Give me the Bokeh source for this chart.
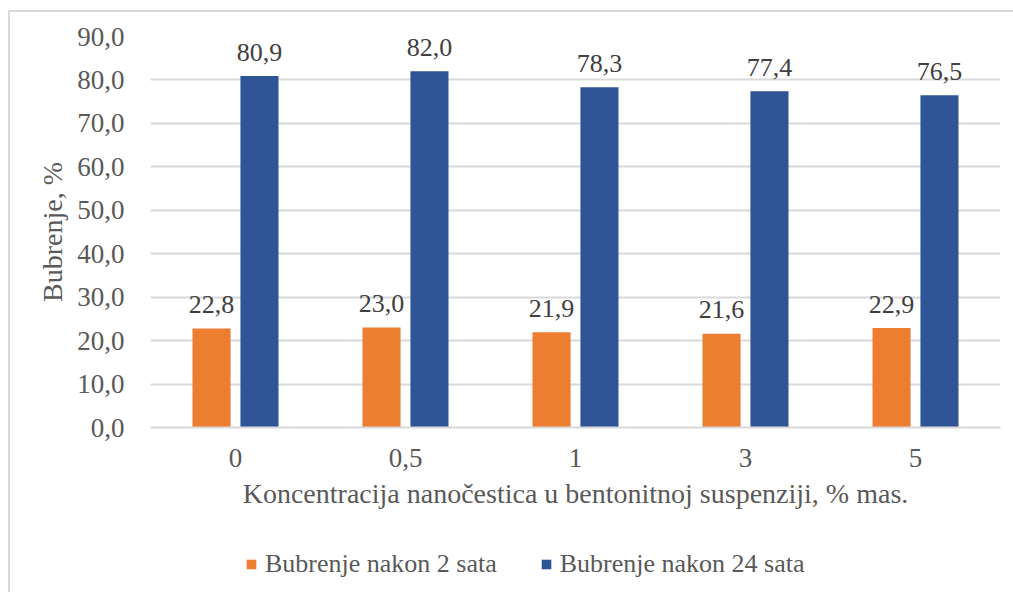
from bokeh.plotting import figure
from bokeh.layouts import column
from bokeh.models import ColumnDataSource, FactorRange, Range1d, Legend, LegendItem, SingleIntervalTicker, CustomJSTickFormatter
from bokeh.transform import dodge
from bokeh.core.properties import value
from bokeh.embed import file_html
from bokeh.resources import INLINE

categories = ["0", "0,5", "1", "3", "5"]
after_2h = [22.8, 23.0, 21.9, 21.6, 22.9]
after_24h = [80.9, 82.0, 78.3, 77.4, 76.5]
series_names = ["Bubrenje nakon 2 sata", "Bubrenje nakon 24 sata"]
y_title = "Bubrenje, %"
x_title = "Koncentracija nanočestica u bentonitnoj suspenziji, % mas."

FONT = "'Liberation Serif', 'Times New Roman', serif"
ORANGE = "#ED7D31"
BLUE = "#2F5597"

src = ColumnDataSource(dict(
    cat=categories,
    a=after_2h,
    b=after_24h,
    a_lab=[f"{v:.1f}".replace(".", ",") for v in after_2h],
    b_lab=[f"{v:.1f}".replace(".", ",") for v in after_24h],
))

p = figure(width=1003, height=530, x_range=FactorRange(*categories, range_padding=0),
           y_range=Range1d(0, 90), output_backend="svg", toolbar_location=None,
           min_border_left=140, min_border_right=13, min_border_top=24, min_border_bottom=115)
p.outline_line_color = None
p.background_fill_color = "white"
p.border_fill_color = "white"

off = 0.141
w = 0.224
p.vbar(x=dodge("cat", -off, range=p.x_range), top="a", width=w, source=src,
       fill_color=ORANGE, line_color=None)
p.vbar(x=dodge("cat", off, range=p.x_range), top="b", width=w, source=src,
       fill_color=BLUE, line_color=None)

p.text(x=dodge("cat", -off, range=p.x_range), y="a", text="a_lab", source=src,
       text_align="center", text_baseline="alphabetic", y_offset=-24,
       text_font=value(FONT), text_font_size="26px", text_color="#404040")
p.text(x=dodge("cat", off, range=p.x_range), y="b", text="b_lab", source=src,
       text_align="center", text_baseline="alphabetic", y_offset=-24,
       text_font=value(FONT), text_font_size="26px", text_color="#404040")

# axes
p.yaxis.ticker = SingleIntervalTicker(interval=10)
p.yaxis.formatter = CustomJSTickFormatter(code="return tick.toFixed(1).replace('.', ',');")
p.yaxis.axis_line_color = None
p.yaxis.major_tick_line_color = None
p.yaxis.minor_tick_line_color = None
p.yaxis.major_label_text_font = FONT
p.yaxis.major_label_text_font_size = "27px"
p.yaxis.major_label_text_color = "#595959"
p.yaxis.major_label_standoff = 20
p.yaxis.axis_label = y_title
p.yaxis.axis_label_text_font = FONT
p.yaxis.axis_label_text_font_size = "28px"
p.yaxis.axis_label_text_font_style = "normal"
p.yaxis.axis_label_text_color = "#595959"
p.yaxis.axis_label_standoff = 6

p.xaxis.axis_line_color = "#d9d9d9"
p.xaxis.axis_line_width = 2
p.xaxis.major_tick_line_color = None
p.xaxis.minor_tick_line_color = None
p.xaxis.major_label_text_font = FONT
p.xaxis.major_label_text_font_size = "27px"
p.xaxis.major_label_text_color = "#595959"
p.xaxis.major_label_standoff = 15
p.xaxis.axis_label = x_title
p.xaxis.axis_label_text_font = FONT
p.xaxis.axis_label_text_font_size = "28px"
p.xaxis.axis_label_text_font_style = "normal"
p.xaxis.axis_label_text_color = "#595959"
p.xaxis.axis_label_standoff = 8

p.xgrid.grid_line_color = None
p.ygrid.grid_line_color = "#d9d9d9"
p.ygrid.grid_line_width = 2

# legend strip (legend-only figure; proxy bars have zero height)
p2 = figure(width=1003, height=50, x_range=Range1d(0, 1), y_range=Range1d(0, 1),
            output_backend="svg", toolbar_location=None,
            x_axis_location=None, y_axis_location=None,
            min_border_left=0, min_border_right=0, min_border_top=0, min_border_bottom=0)
p2.outline_line_color = None
p2.xgrid.grid_line_color = None
p2.ygrid.grid_line_color = None
l1 = p2.vbar(x=[0.5], top=[-50], bottom=[-50], width=0.01, fill_color=ORANGE, line_color=None)
l2 = p2.vbar(x=[0.5], top=[-50], bottom=[-50], width=0.01, fill_color=BLUE, line_color=None)
legend = Legend(items=[LegendItem(label=series_names[0], renderers=[l1], index=0),
                       LegendItem(label=series_names[1], renderers=[l2], index=0)],
                orientation="horizontal", location=(95, 13),
                label_text_font=FONT, label_text_font_size="26px", label_text_color="#595959",
                glyph_width=12, glyph_height=12, label_standoff=8, spacing=43,
                padding=0, margin=0, border_line_color=None, background_fill_alpha=0)
p2.add_layout(legend, "center")

layout = column(p, p2, spacing=0)
layout.styles = {"margin-left": "8px", "margin-top": "10px",
                 "border-top": "2px solid #d9d9d9", "border-left": "2px solid #d9d9d9"}

open("out.html", "w").write(file_html(layout, INLINE))
